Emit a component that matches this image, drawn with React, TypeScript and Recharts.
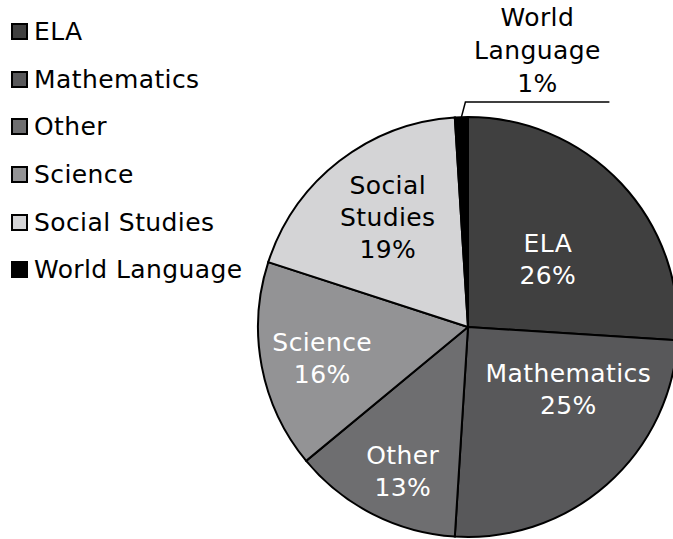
import { PieChart, Pie, Cell } from "recharts";

const categories = ["ELA", "Mathematics", "Other", "Science", "Social Studies", "World Language"];
const shares = [26, 25, 13, 16, 19, 1];
const colors = ["#404040", "#58585a", "#6e6e70", "#939395", "#d4d4d6", "#000000"];

const data = categories.map((name, i) => ({ name, value: shares[i] }));

const FONT = "'DejaVu Sans', Verdana, sans-serif";
const FS = 25;
const LS = 0.4;
const RAD = Math.PI / 180;

// per-slice nudges so labels sit where the original put them
const labelNudge: Record<string, { dx: number; dy: number; lines: string[]; fill: string }> = {
  ELA: { dx: -12, dy: 18, lines: ["ELA"], fill: "#fff" },
  Mathematics: { dx: 17, dy: -33, lines: ["Mathematics"], fill: "#fff" },
  Other: { dx: -8, dy: 32, lines: ["Other"], fill: "#fff" },
  Science: { dx: -22, dy: 7, lines: ["Science"], fill: "#fff" },
  "Social Studies": { dx: -3, dy: -10, lines: ["Social", "Studies"], fill: "#000" },
};

const renderLabel = (props: any) => {
  const { cx, cy, midAngle, outerRadius, name, value } = props;
  if (name === "World Language") {
    const ex = cx + outerRadius * Math.cos(-midAngle * RAD);
    const ey = cy + outerRadius * Math.sin(-midAngle * RAD);
    const kx = ex + 4;
    const ky = ey - 15;
    const tx = kx + 72;
    return (
      <g>
        <polyline points={`${ex},${ey} ${kx},${ky} ${kx + 144},${ky}`} fill="none" stroke="#000" strokeWidth={1.5} />
        <text x={tx} y={ky - 85} textAnchor="middle" dominantBaseline="central" fontFamily={FONT} fontSize={FS} letterSpacing={LS} fill="#000">
          <tspan x={tx} dy={0}>World</tspan>
          <tspan x={tx} dy={33}>Language</tspan>
          <tspan x={tx} dy={33}>{value}%</tspan>
        </text>
      </g>
    );
  }
  const cfg = labelNudge[name];
  const r = outerRadius * 0.6;
  const x = cx + r * Math.cos(-midAngle * RAD) + cfg.dx;
  const y = cy + r * Math.sin(-midAngle * RAD) + cfg.dy;
  const lines = [...cfg.lines, `${value}%`];
  const top = y - ((lines.length - 1) * 32) / 2;
  return (
    <text x={x} y={top} textAnchor="middle" dominantBaseline="central" fontFamily={FONT} fontSize={FS} letterSpacing={LS} fill={cfg.fill}>
      {lines.map((l, i) => (
        <tspan key={i} x={x} dy={i === 0 ? 0 : 32}>
          {l}
        </tspan>
      ))}
    </text>
  );
};

export default function App() {
  return (
    <div style={{ position: "absolute", left: 0, top: 0, width: 673, height: 539, background: "#fff" }}>
      <PieChart width={673} height={539} margin={{ top: 0, right: 0, bottom: 0, left: 0 }}>
        <Pie
          data={data}
          dataKey="value"
          nameKey="name"
          cx={468}
          cy={327}
          outerRadius={210}
          startAngle={90}
          endAngle={-270}
          stroke="#000"
          strokeWidth={2}
          label={renderLabel}
          labelLine={false}
          isAnimationActive={false}
        >
          {data.map((d, i) => (
            <Cell key={d.name} fill={colors[i]} />
          ))}
        </Pie>
      </PieChart>

      {/* Legend */}
      <div style={{ position: "absolute", left: 11, top: 8, fontFamily: FONT, fontSize: FS, letterSpacing: LS, color: "#000" }}>
        {categories.map((c, i) => (
          <div key={c} style={{ display: "flex", alignItems: "center", height: 47.6 }}>
            <span
              style={{
                width: 13,
                height: 13,
                background: colors[i],
                border: "2px solid #000",
                marginRight: 6,
                display: "inline-block",
              }}
            />
            <span>{c}</span>
          </div>
        ))}
      </div>
    </div>
  );
}
